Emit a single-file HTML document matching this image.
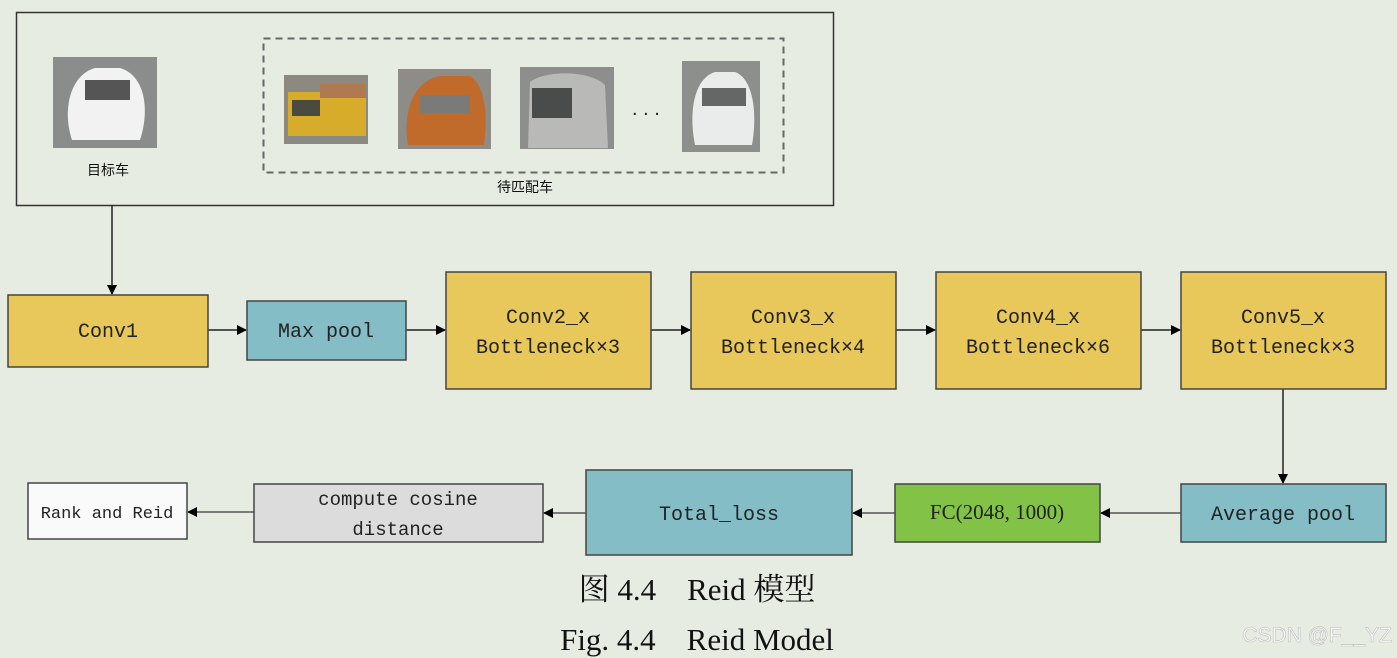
<!DOCTYPE html>
<html><head><meta charset="utf-8"><style>
html,body{margin:0;padding:0;background:#e7ece3;}
svg{display:block}
.m{font-family:"Liberation Mono","Noto Sans CJK SC",monospace;font-size:20px;fill:#222;}
.s{font-family:"Liberation Serif","Noto Serif CJK SC",serif;fill:#111;}
</style></head><body>
<svg width="1397" height="658" viewBox="0 0 1397 658" xmlns="http://www.w3.org/2000/svg">
<defs><marker id="a" markerWidth="10" markerHeight="10" refX="9" refY="5" orient="auto" markerUnits="userSpaceOnUse"><path d="M0,0 L10,5 L0,10z" fill="#000"/></marker></defs>
<rect width="1397" height="658" fill="#e7ece3"/>
<rect x="16.5" y="12.5" width="817" height="193" fill="none" stroke="#333" stroke-width="1.5"/>
<rect x="263.5" y="38.5" width="520" height="134" fill="none" stroke="#666" stroke-width="2" stroke-dasharray="7,5"/>
<g>
<rect x="53" y="57" width="104" height="91" fill="#8a8d8c"/><path d="M72,140 C62,110 70,75 95,68 L120,68 C145,75 150,110 140,140z" fill="#f2f2f2"/><rect x="85" y="80" width="45" height="20" fill="#555"/>
<rect x="284" y="75" width="84" height="69" fill="#8c8a80"/><rect x="288" y="92" width="78" height="44" fill="#d6ac2a"/><rect x="292" y="100" width="28" height="16" fill="#4a4a40"/><rect x="320" y="84" width="46" height="14" fill="#b07a50"/>
<rect x="398" y="69" width="93" height="80" fill="#8d8c86"/><path d="M408,145 C402,110 415,80 440,76 L470,76 C485,85 488,115 484,145z" fill="#c06a2c"/><rect x="420" y="95" width="50" height="18" fill="#7a7a78"/>
<rect x="520" y="67" width="94" height="82" fill="#8e8f8d"/><path d="M528,148 L530,82 C545,70 590,70 605,85 L608,148z" fill="#b9b9b8"/><rect x="532" y="88" width="40" height="30" fill="#4a4c4c"/>
<rect x="682" y="61" width="78" height="91" fill="#8d8f8d"/><path d="M695,145 C688,110 695,78 715,72 L735,72 C752,78 758,110 752,145z" fill="#e9eceb"/><rect x="702" y="88" width="44" height="18" fill="#666"/>
</g>
<text x="632" y="115" font-family="Liberation Sans" font-size="20" fill="#222">. . .</text>
<text x="108" y="175" text-anchor="middle" font-family="Liberation Sans,'Noto Sans CJK SC',sans-serif" font-size="14" fill="#111">目标车</text>
<text x="525" y="192" text-anchor="middle" font-family="Liberation Sans,'Noto Sans CJK SC',sans-serif" font-size="14" fill="#111">待匹配车</text>
<g stroke="#222" stroke-width="1.5" fill="none" marker-end="url(#a)">
<line x1="112" y1="205" x2="112" y2="294"/>
<line x1="208" y1="330" x2="246" y2="330"/>
<line x1="406" y1="330" x2="445" y2="330"/>
<line x1="651" y1="330" x2="690" y2="330"/>
<line x1="896" y1="330" x2="935" y2="330"/>
<line x1="1141" y1="330" x2="1180" y2="330"/>
<line x1="1283" y1="389" x2="1283" y2="483"/>
<line x1="1181" y1="513" x2="1101" y2="513" stroke="#555"/>
<line x1="895" y1="513" x2="853" y2="513" stroke="#555"/>
<line x1="586" y1="513" x2="544" y2="513" stroke="#555"/>
<line x1="254" y1="512" x2="188" y2="512" stroke="#555"/>
</g>
<g stroke="#444" stroke-width="1.5">
<rect x="8" y="295" width="200" height="72" fill="#e8c85a"/>
<rect x="247" y="301" width="159" height="59" fill="#84bdc6"/>
<rect x="446" y="272" width="205" height="117" fill="#e8c85a"/>
<rect x="691" y="272" width="205" height="117" fill="#e8c85a"/>
<rect x="936" y="272" width="205" height="117" fill="#e8c85a"/>
<rect x="1181" y="272" width="205" height="117" fill="#e8c85a"/>
<rect x="1181" y="484" width="205" height="58" fill="#84bdc6"/>
<rect x="895" y="484" width="205" height="58" fill="#82c247"/>
<rect x="586" y="470" width="266" height="85" fill="#84bdc6"/>
<rect x="254" y="484" width="289" height="58" fill="#dcdcdc"/>
<rect x="28" y="483" width="159" height="56" fill="#fafafa"/>
</g>
<g class="m" text-anchor="middle">
<text x="108" y="337">Conv1</text>
<text x="326" y="337">Max pool</text>
<text x="548" y="323">Conv2_x</text><text x="548" y="353">Bottleneck×3</text>
<text x="793" y="323">Conv3_x</text><text x="793" y="353">Bottleneck×4</text>
<text x="1038" y="323">Conv4_x</text><text x="1038" y="353">Bottleneck×6</text>
<text x="1283" y="323">Conv5_x</text><text x="1283" y="353">Bottleneck×3</text>
<text x="1283" y="520">Average pool</text>
<text x="997" y="519" font-family="Liberation Serif,serif" font-size="21">FC(2048, 1000)</text>
<text x="719" y="520">Total_loss</text>
<text x="398" y="505" font-size="19">compute cosine</text><text x="398" y="535" font-size="19">distance</text>
<text x="107" y="518" font-size="17">Rank and Reid</text>
</g>
<text class="s" x="697" y="600" text-anchor="middle" font-size="31">图 4.4　Reid 模型</text>
<text class="s" x="697" y="650" text-anchor="middle" font-size="31">Fig. 4.4　Reid Model</text>
<text x="1392" y="642" text-anchor="end" font-family="Liberation Sans,sans-serif" font-size="21" fill="#fff" stroke="#bbb" stroke-width="0.6">CSDN @F__YZ</text>
</svg>
</body></html>
